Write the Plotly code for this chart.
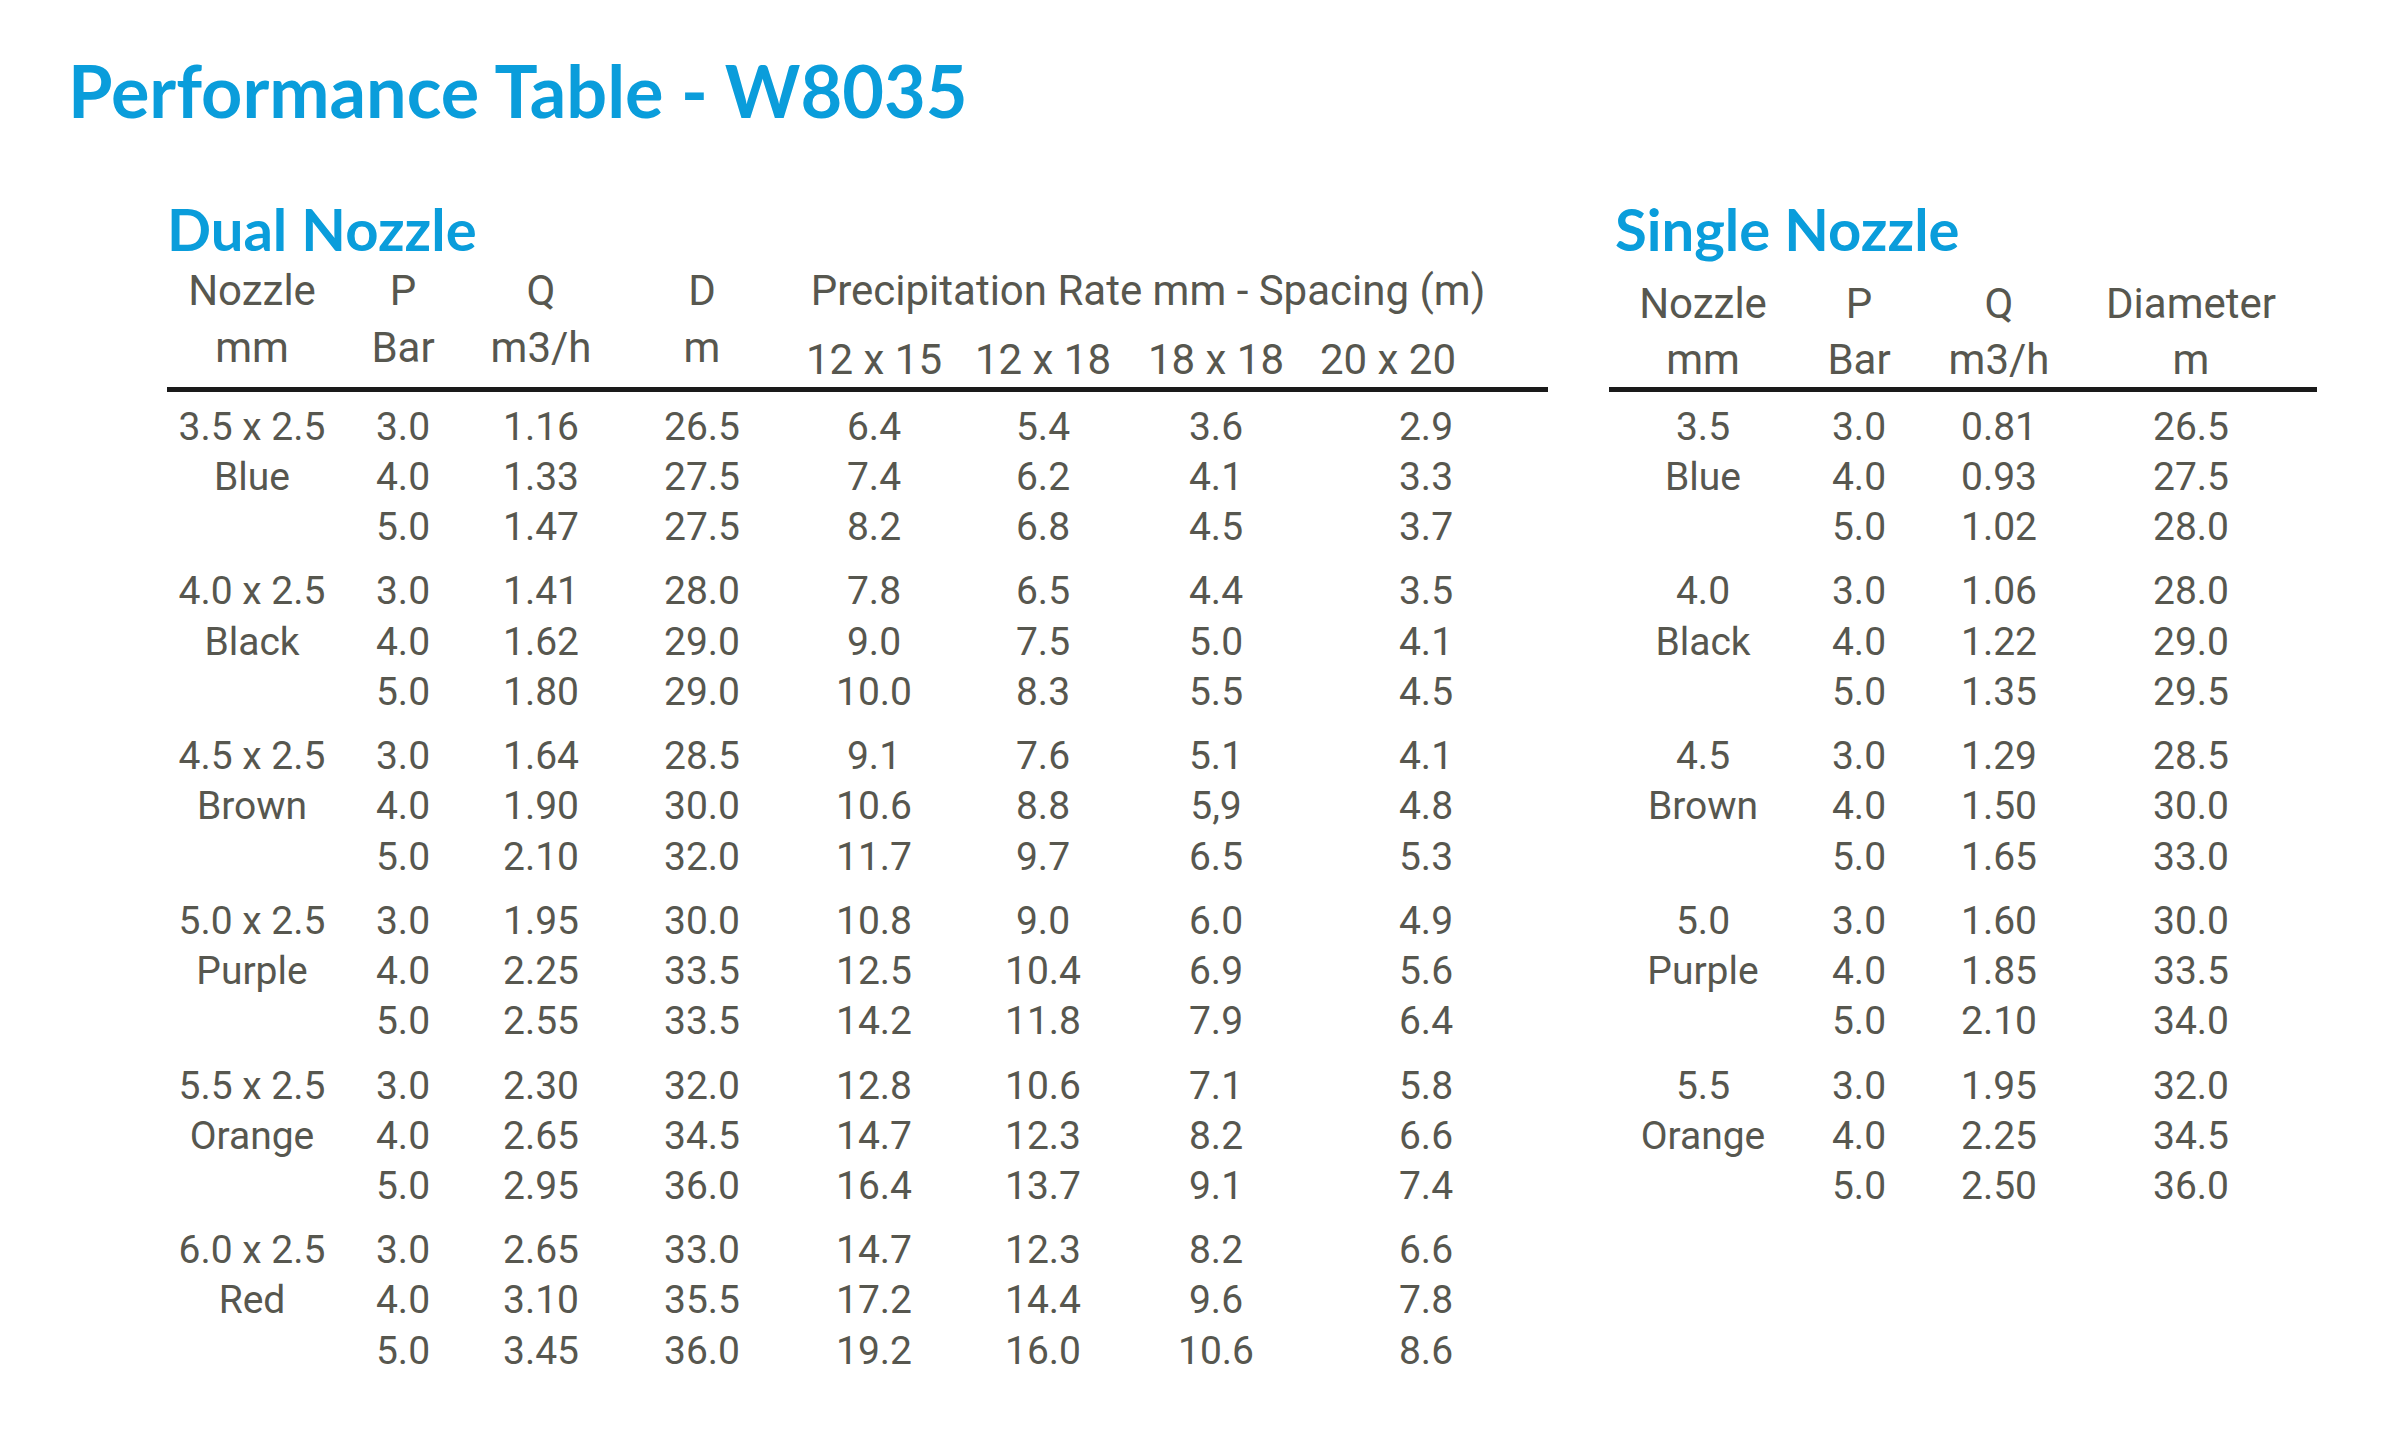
import plotly.graph_objects as go

# ---- data -----------------------------------------------------------------
pressures = ["3.0", "4.0", "5.0"]
nozzle_colours = ["Blue", "Black", "Brown", "Purple", "Orange", "Red"]

dual_sizes = ["3.5 x 2.5", "4.0 x 2.5", "4.5 x 2.5", "5.0 x 2.5", "5.5 x 2.5", "6.0 x 2.5"]
dual_q = [["1.16", "1.33", "1.47"], ["1.41", "1.62", "1.80"], ["1.64", "1.90", "2.10"],
          ["1.95", "2.25", "2.55"], ["2.30", "2.65", "2.95"], ["2.65", "3.10", "3.45"]]
dual_d = [["26.5", "27.5", "27.5"], ["28.0", "29.0", "29.0"], ["28.5", "30.0", "32.0"],
          ["30.0", "33.5", "33.5"], ["32.0", "34.5", "36.0"], ["33.0", "35.5", "36.0"]]
rate_12x15 = [["6.4", "7.4", "8.2"], ["7.8", "9.0", "10.0"], ["9.1", "10.6", "11.7"],
              ["10.8", "12.5", "14.2"], ["12.8", "14.7", "16.4"], ["14.7", "17.2", "19.2"]]
rate_12x18 = [["5.4", "6.2", "6.8"], ["6.5", "7.5", "8.3"], ["7.6", "8.8", "9.7"],
              ["9.0", "10.4", "11.8"], ["10.6", "12.3", "13.7"], ["12.3", "14.4", "16.0"]]
rate_18x18 = [["3.6", "4.1", "4.5"], ["4.4", "5.0", "5.5"], ["5.1", "5,9", "6.5"],
              ["6.0", "6.9", "7.9"], ["7.1", "8.2", "9.1"], ["8.2", "9.6", "10.6"]]
rate_20x20 = [["2.9", "3.3", "3.7"], ["3.5", "4.1", "4.5"], ["4.1", "4.8", "5.3"],
              ["4.9", "5.6", "6.4"], ["5.8", "6.6", "7.4"], ["6.6", "7.8", "8.6"]]
spacings = ["12 x 15", "12 x 18", "18 x 18", "20 x 20"]

single_sizes = ["3.5", "4.0", "4.5", "5.0", "5.5"]
single_q = [["0.81", "0.93", "1.02"], ["1.06", "1.22", "1.35"], ["1.29", "1.50", "1.65"],
            ["1.60", "1.85", "2.10"], ["1.95", "2.25", "2.50"]]
single_d = [["26.5", "27.5", "28.0"], ["28.0", "29.0", "29.5"], ["28.5", "30.0", "33.0"],
            ["30.0", "33.5", "34.0"], ["32.0", "34.5", "36.0"]]

# ---- layout constants (page pixels) ---------------------------------------
W, H = 2384, 1444
PAGE_MARGIN = 8  # default <body> margin of the html page
BLUE = "#0a9ddb"
GREY = "#57574f"
FONT = "Roboto, Noto Sans, sans-serif"
TITLE_FONT = "Lato, Noto Sans, sans-serif"
BODY = 39
HEAD = 42
ROW0, GROUP_STEP, ROW_STEP = 430, 164.7, 50.2

dual_x = dict(nozzle=252, p=403, q=541, d=702, r1=874, r2=1043, r3=1216, r4=1426)
single_x = dict(nozzle=1703, p=1859, q=1999, d=2191)


def row_y(g, r):
    return ROW0 + g * GROUP_STEP + r * ROW_STEP


fig = go.Figure()


def text_trace(xs, ys, texts, size=BODY, color=GREY, family=FONT, pos="middle center"):
    fig.add_trace(go.Scatter(
        x=xs, y=ys, text=texts, mode="text", textposition=pos,
        textfont=dict(size=size, color=color, family=family),
        hoverinfo="skip", showlegend=False))


def column(x, values):
    xs, ys, ts = [], [], []
    for g, grp in enumerate(values):
        for r, v in enumerate(grp):
            xs.append(x)
            ys.append(row_y(g, r))
            ts.append(v)
    text_trace(xs, ys, ts)


def nozzle_column(x, sizes):
    xs, ys, ts = [], [], []
    for g, s in enumerate(sizes):
        xs += [x, x]
        ys += [row_y(g, 0), row_y(g, 1)]
        ts += [s, nozzle_colours[g]]
    text_trace(xs, ys, ts)


# dual nozzle table
nozzle_column(dual_x["nozzle"], dual_sizes)
column(dual_x["p"], [pressures] * len(dual_sizes))
column(dual_x["q"], dual_q)
column(dual_x["d"], dual_d)
column(dual_x["r1"], rate_12x15)
column(dual_x["r2"], rate_12x18)
column(dual_x["r3"], rate_18x18)
column(dual_x["r4"], rate_20x20)

# single nozzle table
nozzle_column(single_x["nozzle"], single_sizes)
column(single_x["p"], [pressures] * len(single_sizes))
column(single_x["q"], single_q)
column(single_x["d"], single_d)

# headers
text_trace([dual_x["nozzle"], dual_x["p"], dual_x["q"], dual_x["d"], 1148],
           [294] * 5, ["Nozzle", "P", "Q", "D", "Precipitation Rate mm - Spacing (m)"], size=HEAD)
text_trace([dual_x["nozzle"], dual_x["p"], dual_x["q"], dual_x["d"]],
           [351] * 4, ["mm", "Bar", "m3/h", "m"], size=HEAD)
text_trace([874, 1043, 1216, 1388], [363] * 4, spacings, size=HEAD)

text_trace([single_x["nozzle"], single_x["p"], single_x["q"], single_x["d"]],
           [307] * 4, ["Nozzle", "P", "Q", "Diameter"], size=HEAD)
text_trace([single_x["nozzle"], single_x["p"], single_x["q"], single_x["d"]],
           [363] * 4, ["mm", "Bar", "m3/h", "m"], size=HEAD)

# titles
text_trace([68], [100], ["<b>Performance Table - W8035</b>"], size=72, color=BLUE,
           family=TITLE_FONT, pos="middle right")
text_trace([167], [236], ["<b>Dual Nozzle</b>"], size=58, color=BLUE,
           family=TITLE_FONT, pos="middle right")
text_trace([1615], [236], ["<b>Single Nozzle</b>"], size=58, color=BLUE,
           family=TITLE_FONT, pos="middle right")

# header rules
for x0, x1 in [(167, 1548), (1609, 2317)]:
    fig.add_shape(type="line", x0=x0, x1=x1, y0=389.5, y1=389.5,
                  line=dict(color="#1a1a1a", width=5))

# axes in page pixels, offset by the body margin
fig.update_xaxes(range=[PAGE_MARGIN, W + PAGE_MARGIN], visible=False)
fig.update_yaxes(range=[H + PAGE_MARGIN, PAGE_MARGIN], visible=False)
fig.update_layout(width=W, height=H, margin=dict(l=0, r=0, t=0, b=0),
                  plot_bgcolor="white", paper_bgcolor="white")

fig.write_html("out.html")
